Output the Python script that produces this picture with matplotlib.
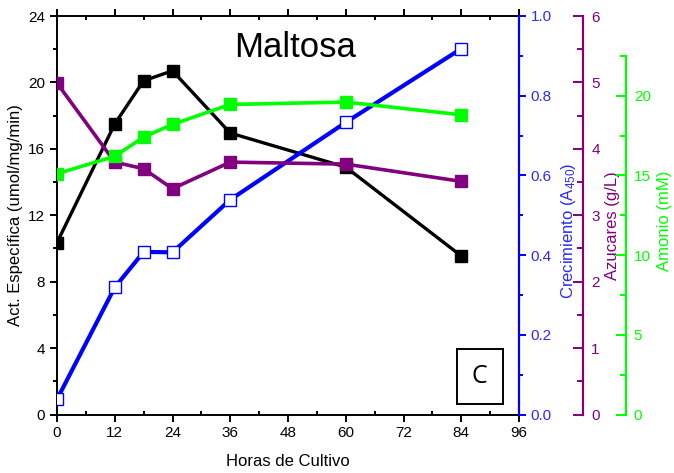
import matplotlib
matplotlib.use("Agg")
import matplotlib.pyplot as plt
from matplotlib.ticker import MultipleLocator, FormatStrFormatter

# culture time (h)
horas = [0, 12, 18, 24, 36, 60, 84]
act_especifica = [10.35, 17.5, 20.1, 20.7, 16.95, 14.9, 9.55]   # umol/mg/min
crecimiento = [0.038, 0.319, 0.408, 0.407, 0.539, 0.733, 0.918]  # A450
azucares = [4.99, 3.80, 3.70, 3.40, 3.80, 3.77, 3.51]             # g/L
amonio = [15.1, 16.2, 17.4, 18.2, 19.45, 19.6, 18.8]              # mM

c_blue = "#0000ff"
c_blue_txt = "#2a2aff"
c_purple = "#800080"
c_green = "#00ff00"

plt.rcParams.update({
    "font.family": ["Liberation Sans", "DejaVu Sans"],
    "font.size": 11,
    "axes.labelsize": 12,
    "axes.linewidth": 1.4,
    "mathtext.fontset": "custom",
    "mathtext.rm": "Liberation Sans",
    "mathtext.it": "Liberation Sans:italic",
})

fig = plt.figure(figsize=(6.74, 4.73), dpi=100)
ax = fig.add_axes([57 / 674, 1 - 414.5 / 473, 462 / 674, 398.5 / 473])

ms = 8.5
ax.plot(horas, act_especifica, color="black", lw=2.4, marker="s", ms=ms, zorder=3)
ax.set_xlim(0, 96)
ax.set_ylim(0, 24)
ax.xaxis.set_major_locator(MultipleLocator(12))
ax.xaxis.set_minor_locator(MultipleLocator(6))
ax.yaxis.set_major_locator(MultipleLocator(4))
ax.yaxis.set_minor_locator(MultipleLocator(2))
ax.tick_params(axis="x", which="major", direction="out", length=5, width=1.4, top=True)
ax.tick_params(axis="x", which="minor", direction="in", length=3, width=1.4, top=True)
ax.tick_params(axis="y", which="major", direction="out", length=5, width=1.4)
ax.tick_params(axis="y", which="minor", direction="out", length=3, width=1.4)
ax.set_xlabel("Horas de Cultivo", labelpad=10)
ax.set_ylabel("Act. Específica (umol/mg/min)", labelpad=4)
ax.spines["right"].set_visible(False)

# growth on the right spine of the main frame
ax_b = ax.twinx()
ax_b.plot(horas, crecimiento, color=c_blue, lw=3.0, marker="s", ms=ms,
          markerfacecolor="white", markeredgecolor=c_blue, markeredgewidth=1.0)
ax_b.set_ylim(0, 1.0)
ax_b.yaxis.set_major_locator(MultipleLocator(0.2))
ax_b.yaxis.set_minor_locator(MultipleLocator(0.1))
ax_b.yaxis.set_major_formatter(FormatStrFormatter("%.1f"))
ax_b.spines["right"].set_color(c_blue)
ax_b.spines["right"].set_linewidth(1.6)
for s in ("left", "top", "bottom"):
    ax_b.spines[s].set_visible(False)
ax_b.tick_params(axis="y", which="both", colors=c_blue, labelcolor=c_blue_txt, width=1.4)
ax_b.tick_params(axis="y", which="major", length=5)
ax_b.tick_params(axis="y", which="minor", length=3)
ax_b.set_ylabel(r"Crecimiento (A$_{450}$)", color=c_blue_txt)
ax_b.yaxis.set_label_coords(1.087, 0.46)

# sugars on an offset spine
ax_p = ax.twinx()
ax_p.plot(horas, azucares, color=c_purple, lw=2.6, marker="s", ms=ms)
ax_p.set_ylim(0, 6)
ax_p.spines["right"].set_position(("axes", 64 / 462 + 1))
ax_p.spines["right"].set_color(c_purple)
ax_p.spines["right"].set_linewidth(1.6)
for s in ("left", "top", "bottom"):
    ax_p.spines[s].set_visible(False)
ax_p.yaxis.set_major_locator(MultipleLocator(1))
ax_p.yaxis.set_minor_locator(MultipleLocator(0.5))
ax_p.tick_params(axis="y", which="both", direction="in", colors=c_purple,
                 labelcolor=c_purple, width=1.4, pad=6)
ax_p.tick_params(axis="y", which="major", length=7)
ax_p.tick_params(axis="y", which="minor", length=4)
ax_p.set_ylabel("Azucares (g/L)", color=c_purple)
ax_p.yaxis.set_label_coords(1.187, 0.475)

# ammonium on a second offset spine, shorter than the frame
ax_g = ax.twinx()
ax_g.plot(horas, amonio, color=c_green, lw=2.6, marker="s", ms=ms)
ax_g.set_ylim(0, 25)
ax_g.spines["right"].set_position(("axes", 106.5 / 462 + 1))
ax_g.spines["right"].set_bounds(0, 22.5)
ax_g.spines["right"].set_color(c_green)
ax_g.spines["right"].set_linewidth(1.6)
for s in ("left", "top", "bottom"):
    ax_g.spines[s].set_visible(False)
ax_g.set_yticks([0, 5, 10, 15, 20])
ax_g.set_yticks([2.5, 7.5, 12.5, 17.5, 22.5], minor=True)
ax_g.tick_params(axis="y", which="both", direction="in", colors=c_green,
                 labelcolor=c_green, width=1.4, pad=6)
ax_g.tick_params(axis="y", which="major", length=7)
ax_g.tick_params(axis="y", which="minor", length=4)
ax_g.set_ylabel("Amonio (mM)", color=c_green)
ax_g.yaxis.set_label_coords(1.299, 0.485)

ax_g.text(0.515, 0.92, "Maltosa", transform=ax.transAxes, fontsize=25,
          ha="center", va="center")
ax_g.text(0.915, 0.095, "C", transform=ax.transAxes, fontsize=18,
          family=["Open Sans", "DejaVu Sans"], ha="center", va="center",
          bbox=dict(boxstyle="square,pad=0.6", facecolor="white",
                    edgecolor="black", linewidth=1.4))

fig.savefig("out.png", dpi=100)
